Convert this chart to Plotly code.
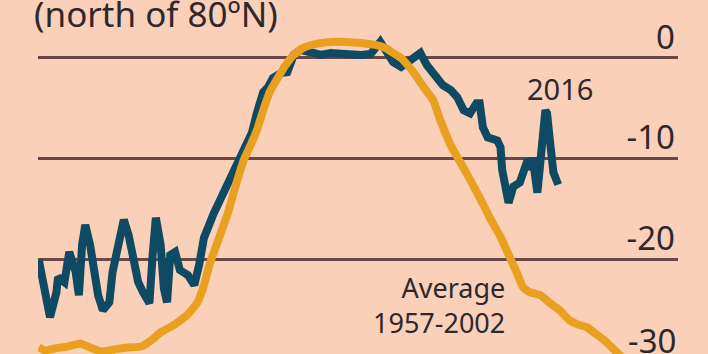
import plotly.graph_objects as go

# Day of year and temperature (°C)
days_2016 = [1, 4, 8, 12, 13, 17, 20, 24, 26, 28, 30, 33, 38, 41, 45, 47, 51, 54, 57, 60,
             63, 66, 70, 72, 74, 77, 79, 81, 83, 86, 89, 94, 98, 101, 104, 110, 114, 119, 122, 125,
             128, 131, 134, 137, 141, 144, 147, 152, 156, 160, 164, 170, 177, 183, 189, 195, 202, 208, 211, 214,
             218, 222, 227, 231, 235, 239, 243, 247, 250, 253, 258, 262, 266, 270, 274, 276, 278, 281, 287, 289,
             290, 292, 294, 297, 301, 306, 308, 309, 312, 314, 317, 318, 320, 322, 325]
temp_2016 = [-20.1, -22.9, -25.8, -23.3, -21.8, -22.3, -19.3, -21.3, -23.6, -18.6, -16.6, -18.6, -23.6, -25.1, -24.3, -21.3, -17.9, -16.1, -17.6, -20.3,
             -22.3, -23.3, -24.4, -19.6, -15.9, -18.6, -22.9, -24.3, -19.6, -19.3, -21.1, -21.6, -22.6, -20.6, -17.9, -15.5, -14.1, -12.3, -11.3, -10.1,
             -9.2, -8.2, -7.4, -5.5, -3.4, -2.9, -2.0, -1.5, -1.4, 0.3, 0.8, 0.6, 0.3, 0.5, 0.4, 0.5, 0.3, 0.4, 1.0, 1.6,
             0.6, -0.4, -0.9, -0.4, 0.2, 0.5, -0.7, -1.5, -2.2, -2.7, -3.2, -3.9, -5.2, -5.5, -4.5, -4.5, -6.9, -7.9, -8.2, -8.9,
             -11.1, -13.4, -14.4, -12.8, -12.4, -10.1, -11.1, -9.9, -13.4, -10.1, -5.2, -5.5, -8.5, -11.4, -12.6]

days_avg = [1, 5, 11, 19, 27, 33, 40, 48, 56, 65, 71, 77, 85, 94, 100, 104, 108, 113, 119, 124,
            129, 133, 137, 141, 145, 150, 155, 160, 166, 174, 183, 192, 202, 211, 217, 222, 227, 231, 236, 241,
            247, 251, 258, 264, 270, 276, 283, 289, 295, 299, 303, 307, 314, 320, 326, 332, 337, 343, 348, 354,
            359, 365]
temp_avg = [-28.8, -29.1, -28.9, -28.7, -28.4, -28.8, -29.2, -29.0, -28.8, -28.7, -28.1, -27.3, -26.6, -25.5, -24.3, -22.6, -20.3, -18.1, -15.4, -12.6,
            -10.1, -8.7, -7.2, -5.2, -3.4, -2.0, -0.7, 0.3, 1.0, 1.4, 1.6, 1.6, 1.5, 1.3, 1.0, 0.5, 0.0, -0.7, -1.7, -2.9,
            -4.2, -6.0, -8.7, -10.4, -12.1, -13.9, -16.1, -17.8, -19.9, -21.3, -22.8, -23.3, -23.6, -24.4, -25.1, -26.1, -26.5, -26.8, -27.4, -28.1,
            -28.9, -29.8]

tick_vals = [0, -10, -20]
tick_text = ["0", "-10", "-20"]

BG = "#fbd0b9"
TEAL = "#0e4a63"
GOLD = "#e9a020"
TEXT = "#2e282c"
GRID = "#6b4848"
FONT = "Noto Sans"

fig = go.Figure()
fig.add_trace(go.Scatter(x=days_2016, y=temp_2016, mode="lines",
                         line=dict(color=TEAL, width=8), name="2016", showlegend=False))
fig.add_trace(go.Scatter(x=days_avg, y=temp_avg, mode="lines",
                         line=dict(color=GOLD, width=8, shape="spline", smoothing=0.4),
                         name="Average 1957-2002", showlegend=False))

fig.update_layout(
    width=708, height=354,
    margin=dict(l=38, r=30, t=0, b=0),
    paper_bgcolor=BG, plot_bgcolor=BG,
    font=dict(family=FONT, color=TEXT),
    xaxis=dict(range=[0.5, 399.7], visible=False, showgrid=False, zeroline=False),
    yaxis=dict(range=[-29.45, 5.77], side="right", tickvals=tick_vals, ticktext=tick_text,
               ticklabelposition="inside", ticklabelshift=-21, ticks="",
               tickfont=dict(size=33, color=TEXT, family=FONT),
               showgrid=True, gridcolor=GRID, gridwidth=2.5, zeroline=False, showline=False),
    annotations=[
        dict(text="(north of 80ºN)", xref="paper", yref="paper", x=-6/640, y=1 - 13/354,
             xanchor="left", yanchor="middle", showarrow=False, font=dict(size=35, color=TEXT)),
        dict(text="2016", x=326, y=-3.0, xanchor="center", yanchor="middle", showarrow=False,
             font=dict(size=29, color=TEXT)),
        dict(text="Average<br>1957-2002", x=293, y=-24.6, xanchor="right", yanchor="middle",
             align="right", showarrow=False, font=dict(size=27, color=TEXT)),
        dict(text="-30", xref="paper", x=1, y=-28.1, xanchor="right", yanchor="middle",
             showarrow=False, font=dict(size=33, color=TEXT)),
    ],
)

fig.write_html("out.html")
